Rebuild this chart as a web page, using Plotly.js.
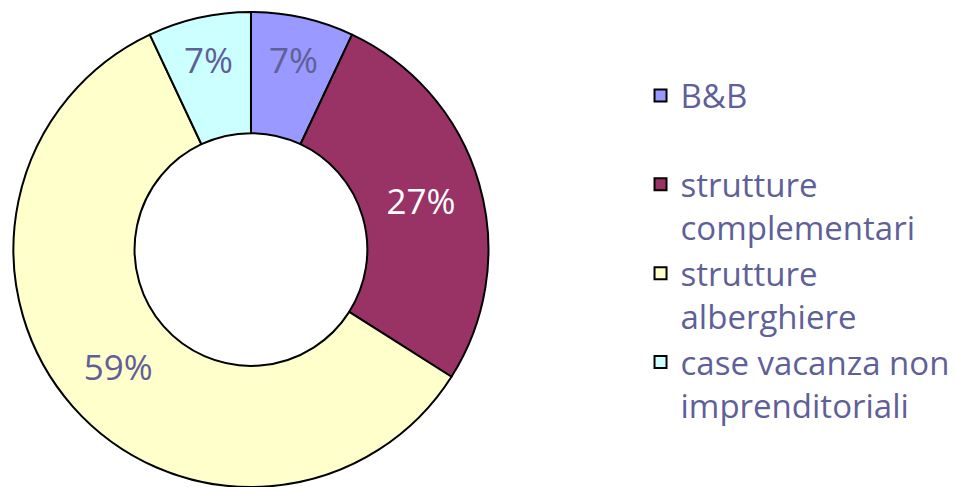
<!DOCTYPE html>
<html>
<head>
<meta charset="utf-8">
<script src="https://cdn.plot.ly/plotly-3.0.1.min.js"></script>
<style>
  html, body { margin: 0; padding: 0; background: #fff; }
  #graph { width: 956px; height: 487px; }
</style>
</head>
<body>
<div id="graph"></div>
<script>
// categories and shares (percent), clockwise from 12 o'clock
const categories = [
  "B&B<br>\u00a0",
  "strutture<br>complementari",
  "strutture<br>alberghiere",
  "case vacanza non<br>imprenditoriali"
];
const shares = [7, 27, 59, 7];
const shareLabels = ["7%", "27%", "59%", "7%"];

const sliceColors = ["#9999FF", "#993366", "#FFFFCC", "#CCFFFF"];
const labelColors = ["#5F5F99", "#FFFFFF", "#5F5F99", "#5F5F99"];

const trace = {
  type: "pie",
  labels: categories,
  values: shares,
  text: shareLabels,
  textinfo: "text",
  textposition: "inside",
  insidetextorientation: "horizontal",
  hoverinfo: "label+percent",
  sort: false,
  direction: "clockwise",
  rotation: 0,
  hole: 0.49,
  marker: {
    colors: sliceColors,
    line: { color: "#000000", width: 2 }
  },
  insidetextfont: { family: "'Open Sans', sans-serif", size: 35, color: labelColors },
  domain: { x: [0, 0.525], y: [0, 1] }
};

const layout = {
  width: 956,
  height: 487,
  margin: { l: 0, r: 0, t: 12, b: 0 },
  paper_bgcolor: "#ffffff",
  showlegend: true,
  legend: {
    x: 0.67,
    y: 0.883,
    xanchor: "left",
    yanchor: "top",
    valign: "top",
    font: { family: "'Open Sans', sans-serif", size: 33, color: "#5F5F99" }
  }
};

Plotly.newPlot("graph", [trace], layout, { displayModeBar: false, staticPlot: true });
</script>
</body>
</html>
